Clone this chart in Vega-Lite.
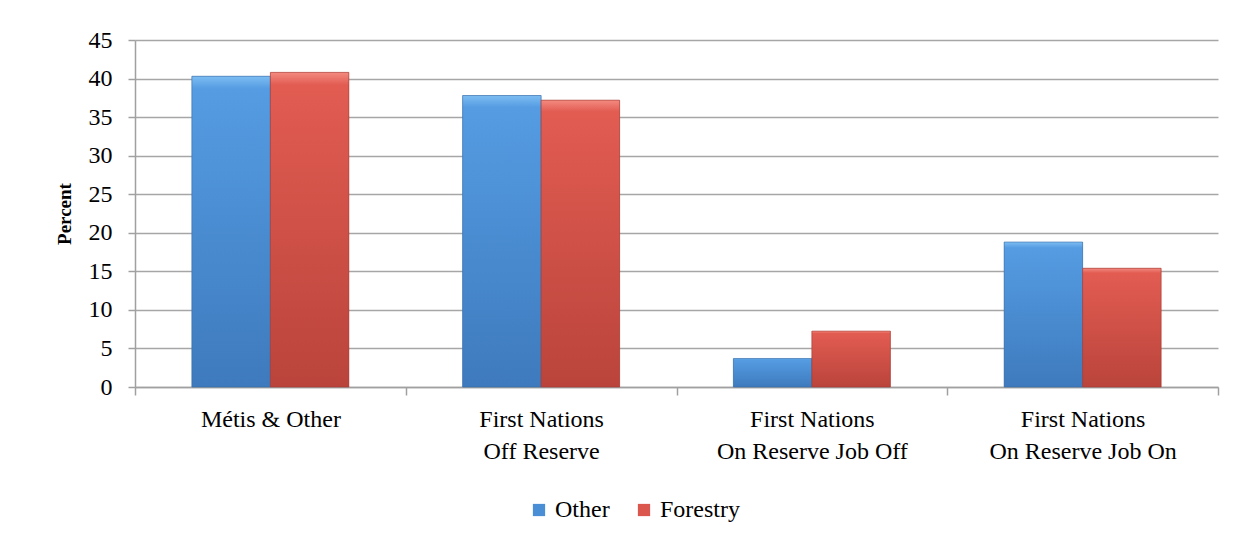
{
  "$schema": "https://vega.github.io/schema/vega-lite/v6.json",
  "width": 1083,
  "height": 347,
  "autosize": {"type": "none"},
  "padding": {"left": 135, "top": 40, "right": 32, "bottom": 163},
  "background": "white",
  "data": {
    "values": [
      {"group": "Métis & Other", "series": "Other", "value": 40.3},
      {"group": "Métis & Other", "series": "Forestry", "value": 40.8},
      {"group": "First Nations|Off Reserve", "series": "Other", "value": 37.8},
      {"group": "First Nations|Off Reserve", "series": "Forestry", "value": 37.2},
      {"group": "First Nations|On Reserve Job Off", "series": "Other", "value": 3.7},
      {"group": "First Nations|On Reserve Job Off", "series": "Forestry", "value": 7.25},
      {"group": "First Nations|On Reserve Job On", "series": "Other", "value": 18.8},
      {"group": "First Nations|On Reserve Job On", "series": "Forestry", "value": 15.4}
    ]
  },
  "encoding": {
    "x": {
      "field": "group",
      "type": "nominal",
      "sort": null,
      "scale": {"paddingInner": 0, "paddingOuter": 0},
      "axis": {
        "title": null,
        "labelAngle": 0,
        "tickBand": "extent",
        "labelExpr": "split(datum.label, '|')",
        "labelLineHeight": 32,
        "labelLimit": 0,
        "tickSize": 8,
        "labelPadding": 12,
        "grid": false
      }
    },
    "xOffset": {
      "field": "series",
      "type": "nominal",
      "scale": {"domain": ["Other", "Forestry"], "paddingInner": 0, "paddingOuter": 0.7246}
    },
    "y": {
      "field": "value",
      "type": "quantitative",
      "scale": {"domain": [0, 45], "nice": false},
      "axis": {
        "values": [0, 5, 10, 15, 20, 25, 30, 35, 40, 45],
        "title": "Percent",
        "titleFont": "Liberation Serif",
        "titleFontWeight": "bold",
        "titleFontSize": 19,
        "titleColor": "#000000",
        "titlePadding": 14,
        "tickSize": 7,
        "labelPadding": 16,
        "grid": true
      }
    }
  },
  "layer": [
    {
      "mark": {"type": "bar"},
      "encoding": {
        "color": {
          "field": "series",
          "type": "nominal",
          "scale": {"domain": ["Other", "Forestry"], "range": ["#4A8ED6", "#DB564D"]},
          "legend": {
            "title": null,
            "orient": "none",
            "legendX": 392,
            "legendY": 458,
            "direction": "horizontal",
            "symbolType": "square",
            "symbolSize": 150,
            "symbolStrokeWidth": 0,
            "labelFont": "Liberation Serif",
            "labelFontSize": 24,
            "labelColor": "#000000",
            "labelOffset": 4,
            "labelLimit": 0,
            "columnPadding": 22,
            "padding": 0
          }
        }
      }
    },
    {
      "transform": [{"filter": "datum.series == 'Other'"}],
      "mark": {
        "type": "bar",
        "color": {
          "gradient": "linear",
          "x1": 0, "y1": 0, "x2": 0, "y2": 1,
          "stops": [
            {"offset": 0, "color": "#7DBDF2"},
            {"offset": 0.04, "color": "#559CE2"},
            {"offset": 1, "color": "#3E7ABD"}
          ]
        },
        "stroke": "#3A6DA6",
        "strokeWidth": 0.6
      }
    },
    {
      "transform": [{"filter": "datum.series == 'Forestry'"}],
      "mark": {
        "type": "bar",
        "color": {
          "gradient": "linear",
          "x1": 0, "y1": 0, "x2": 0, "y2": 1,
          "stops": [
            {"offset": 0, "color": "#F38A80"},
            {"offset": 0.04, "color": "#E25C52"},
            {"offset": 1, "color": "#BA443B"}
          ]
        },
        "stroke": "#A33A32",
        "strokeWidth": 0.6
      }
    }
  ],
  "config": {
    "view": {"stroke": null},
    "axis": {
      "labelFont": "Liberation Serif",
      "labelFontSize": 24,
      "labelColor": "#000000",
      "domainColor": "#A0A0A0",
      "domainWidth": 1.5,
      "tickColor": "#A0A0A0",
      "tickWidth": 1.5,
      "gridColor": "#A6A6A6",
      "gridWidth": 1.5
    }
  }
}
